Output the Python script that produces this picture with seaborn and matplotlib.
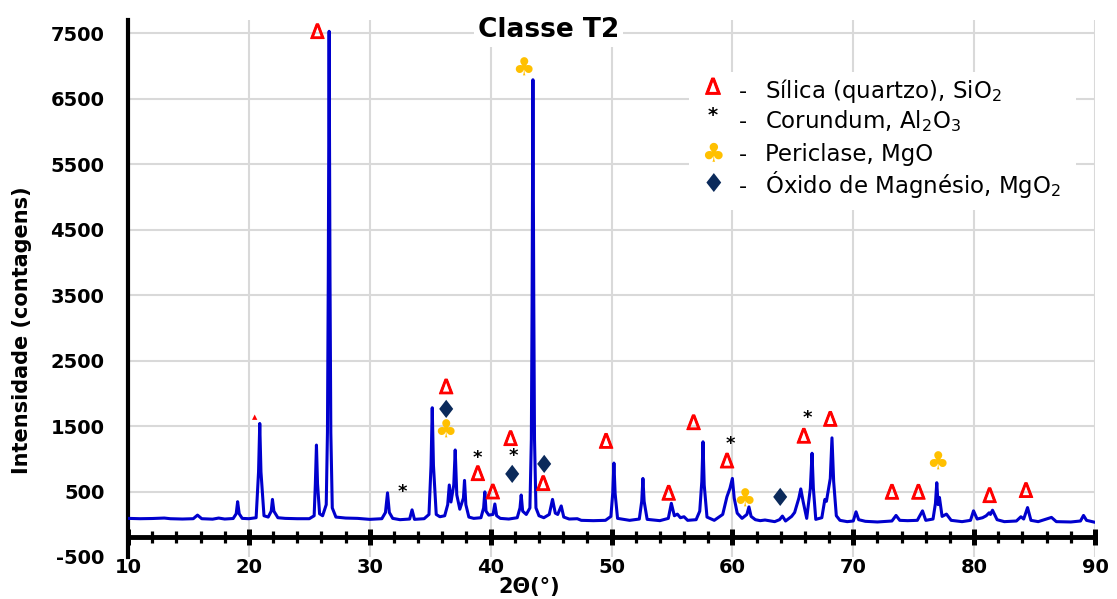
import numpy as np
import pandas as pd
import matplotlib
matplotlib.use("Agg")
import matplotlib.pyplot as plt
import matplotlib.patheffects as pe
import seaborn as sns
from matplotlib.patches import Rectangle
from matplotlib.ticker import MultipleLocator, FixedLocator

# ---------------- data ----------------
two_theta = [10.0, 11.0, 12.0, 13.0, 13.5, 14.5, 15.4, 15.75, 16.1, 17.0,
             17.5, 18.0, 18.7, 18.95, 19.07, 19.2, 19.45, 20.0, 20.6, 20.8,
             20.9, 21.0, 21.25, 21.6, 21.85, 21.95, 22.07, 22.4, 23.0, 24.0,
             25.0, 25.4, 25.5, 25.59, 25.68, 25.85, 26.1, 26.4, 26.5, 26.57,
             26.64, 26.71, 26.78, 26.9, 27.2, 28.0, 29.0, 30.0, 31.0, 31.3,
             31.47, 31.62, 31.9, 32.5, 33.3, 33.5, 33.7, 34.5, 34.9, 35.07,
             35.17, 35.27, 35.5, 35.8, 36.2, 36.45, 36.58, 36.72, 36.95, 37.07,
             37.2, 37.45, 37.75, 37.84, 37.95, 38.2, 38.6, 39.2, 39.42, 39.52,
             39.62, 39.85, 40.2, 40.35, 40.5, 40.8, 41.5, 42.2, 42.43, 42.53,
             42.65, 42.95, 43.25, 43.37, 43.43, 43.5, 43.57, 43.63, 43.75, 44.0,
             44.4, 44.85, 45.12, 45.35, 45.55, 45.84, 46.05, 46.5, 47.17, 47.5,
             48.5, 49.5, 49.95, 50.1, 50.2, 50.3, 50.5, 51.5, 52.3, 52.5,
             52.6, 52.7, 52.95, 54.0, 54.7, 54.95, 55.2, 55.45, 55.7, 56.0,
             56.3, 57.0, 57.3, 57.47, 57.57, 57.67, 57.9, 58.5, 59.2, 59.55,
             59.8, 60.0, 60.15, 60.4, 60.8, 61.2, 61.37, 61.55, 61.9, 62.3,
             62.7, 63.5, 63.9, 64.14, 64.4, 64.9, 65.15, 65.5, 65.66, 65.85,
             66.15, 66.45, 66.59, 66.7, 66.9, 67.4, 67.65, 67.78, 68.1, 68.24,
             68.38, 68.6, 68.9, 69.5, 70.0, 70.23, 70.45, 71.0, 72.0, 73.2,
             73.54, 73.85, 74.5, 75.3, 75.73, 76.0, 76.6, 76.8, 76.91, 77.02,
             77.13, 77.35, 77.71, 78.1, 79.0, 79.7, 79.95, 80.25, 80.7, 81.0,
             81.24, 81.35, 81.52, 81.9, 82.5, 83.5, 83.87, 84.1, 84.42, 84.7,
             85.3, 86.4, 86.8, 88.0, 88.8, 89.05, 89.3, 90.0]
intensity = [90, 85, 88, 95, 85, 80, 85, 140, 85, 78,
             95, 80, 88, 160, 345, 160, 90, 85, 100, 800,
             1540, 800, 130, 110, 200, 380, 200, 100, 90, 85,
             85, 130, 620, 1210, 620, 160, 130, 300, 1400, 3800,
             7530, 3800, 1400, 250, 110, 95, 90, 75, 85, 180,
             480, 180, 90, 70, 80, 220, 75, 85, 150, 900,
             1780, 900, 150, 115, 130, 300, 600, 340, 600, 1135,
             450, 230, 400, 670, 300, 110, 90, 100, 250, 495,
             200, 140, 150, 310, 130, 90, 80, 100, 250, 447,
             200, 150, 250, 1300, 3400, 6790, 3400, 1300, 250, 130,
             100, 150, 380, 170, 150, 280, 110, 80, 85, 60,
             55, 60, 120, 470, 935, 470, 90, 60, 80, 350,
             700, 350, 75, 55, 90, 320, 130, 155, 100, 115,
             60, 70, 200, 650, 1260, 600, 110, 60, 150, 420,
             550, 700, 400, 170, 90, 150, 265, 120, 70, 55,
             65, 40, 70, 125, 50, 120, 180, 400, 540, 350,
             90, 550, 1085, 550, 75, 100, 380, 350, 700, 1320,
             650, 130, 60, 40, 50, 190, 70, 45, 35, 50,
             135, 60, 55, 60, 205, 60, 80, 320, 635, 300,
             410, 120, 155, 60, 40, 60, 205, 80, 100, 130,
             175, 150, 215, 70, 40, 50, 115, 80, 255, 60,
             40, 105, 40, 35, 50, 135, 60, 30]
assert len(two_theta) == len(intensity)

# phase markers (2θ, intensity)
silica_x = [25.67, 36.32, 38.94, 40.18, 41.65, 44.35, 49.55, 54.73, 56.79, 59.56,
            65.91, 68.10, 73.20, 75.39, 81.28, 84.29]
silica_y = [7504, 2077, 752, 472, 1287, 600, 1246, 453, 1530, 945,
            1324, 1582, 468, 468, 416, 494]
silica_small_x = [20.51]
silica_small_y = [1634]
corundum_x = [32.73, 38.92, 41.84, 59.84, 66.24]
corundum_y = [523, 1032, 1068, 1246, 1645]
periclase_x = [42.75, 36.27, 61.0, 77.0]
periclase_y = [6966, 1424, 381, 935]
mgo2_x = [36.27, 41.73, 44.4, 63.94]
mgo2_y = [1735, 737, 890, 381]

legend_labels = ["Sílica (quartzo), SiO$_2$", "Corundum, Al$_2$O$_3$",
                 "Periclase, MgO", "Óxido de Magnésio, MgO$_2$"]
legend_symbols = ["Δ", "*", "♣", "♦"]

x_ticks = [10, 20, 30, 40, 50, 60, 70, 80, 90]
y_ticks = [-500, 500, 1500, 2500, 3500, 4500, 5500, 6500, 7500]

title = "Classe T2"
xlabel = "2Θ(°)"
ylabel = "Intensidade (contagens)"

# ---------------- styling ----------------
sns.set_style("white")
plt.rcParams['font.family'] = ['DejaVu Sans']
plt.rcParams['mathtext.default'] = 'regular'
plt.rcParams['mathtext.fontset'] = 'dejavusans'
plt.rcParams['text.color'] = 'black'
plt.rcParams['axes.labelcolor'] = 'black'
plt.rcParams['xtick.color'] = 'black'
plt.rcParams['ytick.color'] = 'black'

RED = "#FF0000"
GOLD = "#FFC000"
NAVY = "#0B2A5B"
BLUE = "#0000CD"
GRID = "#D9D9D9"

fig = plt.figure(figsize=(11.17, 5.99), dpi=100)
W, H = 1117, 599
ax_l, ax_r, ax_t, ax_b = 128, 1095, 20.2, 557
ax = fig.add_axes([ax_l / W, (H - ax_b) / H, (ax_r - ax_l) / W, (ax_b - ax_t) / H])

df = pd.DataFrame({"two_theta": two_theta, "intensity": intensity})
sns.lineplot(data=df, x="two_theta", y="intensity", ax=ax, color=BLUE,
             linewidth=2.2, estimator=None, sort=False, zorder=3)

ax.set_xlim(10, 90)
ax.set_ylim(-500, 7700)
ax.xaxis.set_major_locator(FixedLocator(x_ticks))
ax.xaxis.set_minor_locator(MultipleLocator(2))
ax.yaxis.set_major_locator(FixedLocator(y_ticks))
ax.set_xticklabels([str(t) for t in x_ticks])
ax.set_yticklabels([str(t) for t in y_ticks])

ax.set_axisbelow(True)
ax.grid(True, which='major', color=GRID, linewidth=1.5)
ax.yaxis.get_gridlines()[0].set_visible(False)

for s in ['top', 'right']:
    ax.spines[s].set_visible(False)
ax.spines['left'].set_linewidth(3)
ax.spines['left'].set_color('black')
ax.spines['bottom'].set_position(('data', -190))
ax.spines['bottom'].set_linewidth(3.5)
ax.spines['bottom'].set_color('black')

ax.tick_params(axis='x', which='both', bottom=True, top=False)
ax.tick_params(axis='x', which='major', direction='inout', length=11, width=3.6,
               color='black', labelsize=14, pad=10)
ax.tick_params(axis='x', which='minor', direction='inout', length=8.5, width=2.3,
               color='black')
ax.tick_params(axis='y', which='major', left=False, length=0, labelsize=14, pad=17)
for lab in ax.get_xticklabels() + ax.get_yticklabels():
    lab.set_fontweight('bold')
    lab.set_color('black')

ax.set_xlabel(xlabel, fontsize=15, fontweight='bold')
ax.xaxis.set_label_coords((529 - ax_l) / (ax_r - ax_l), (ax_b - 587) / (ax_b - ax_t))
ax.xaxis.label.set_va('center')
ax.set_ylabel(ylabel, fontsize=15, fontweight='bold')
ax.yaxis.set_label_coords((22 - ax_l) / (ax_r - ax_l), (ax_b - 330) / (ax_b - ax_t))
ax.yaxis.label.set_va('center')

# ---------------- phase markers (as text, like the reference) ----------------
thick_red = [pe.withStroke(linewidth=0.8, foreground=RED)]
for x, y in zip(silica_x, silica_y):
    ax.text(x, y, "Δ", color=RED, fontsize=14.5, ha='center', va='center', zorder=4,
            path_effects=thick_red)
for x, y in zip(silica_small_x, silica_small_y):
    ax.text(x, y, "▲", color=RED, fontsize=5, ha='center', va='center', zorder=4)
for x, y in zip(corundum_x, corundum_y):
    ax.text(x, y - 25, "*", color='black', fontsize=13, fontweight='bold', ha='center',
            va='center', zorder=4)
for x, y in zip(periclase_x, periclase_y):
    ax.text(x, y, "♣", color=GOLD, fontsize=18, ha='center', va='center', zorder=4)
for x, y in zip(mgo2_x, mgo2_y):
    ax.text(x, y, "♦", color=NAVY, fontsize=18, ha='center', va='center', zorder=4)

# ---------------- title ----------------
ax.text(44.8, 7552, title, fontsize=19, fontweight='bold', ha='center', va='center',
        zorder=5, bbox=dict(facecolor='white', edgecolor='none', pad=3))

# ---------------- legend ----------------
ax.add_patch(Rectangle((56.4, 4801), 88.4 - 56.4, 6910 - 4801, facecolor='white',
                       edgecolor='none', zorder=1))
row_base = [6517, 6050, 5550, 5066]
sym_y = [6660, 6250, 5650, 5180]
sym_col = [RED, 'black', GOLD, NAVY]
sym_kw = [dict(fontsize=16, path_effects=thick_red), dict(fontweight='bold', fontsize=14),
          dict(fontsize=19), dict(fontsize=19)]
for lab, sym, yb, ys, c, kw in zip(legend_labels, legend_symbols, row_base, sym_y, sym_col, sym_kw):
    ax.text(58.4, ys, sym, color=c, ha='center', va='center', zorder=4, **kw)
    ax.text(60.9, yb, "-", color='black', fontsize=16, ha='center', va='baseline', zorder=4)
    ax.text(62.7, yb, lab, color='black', fontsize=16.5, ha='left', va='baseline', zorder=4)

fig.savefig("out.png", dpi=100)
